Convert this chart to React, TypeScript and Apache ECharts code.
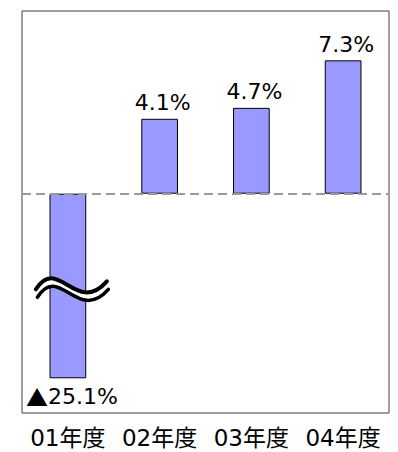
import React, { useEffect, useRef } from "react";
import * as echarts from "echarts";

const categories = ["01年度", "02年度", "03年度", "04年度"];
const actualValues = [-25.1, 4.1, 4.7, 7.3];
// first bar is drawn truncated (axis break shown with a wave mark)
const displayValues = [-10.1, 4.1, 4.7, 7.3];
const yMin = -12;
const yMax = 10;

const FONT = "'DejaVu Sans', 'Noto Sans CJK JP', sans-serif";

export default function App() {
  const ref = useRef<HTMLDivElement>(null);
  useEffect(() => {
    if (!ref.current) return;
    const chart = echarts.init(ref.current, undefined, { renderer: "svg" });
    const data = displayValues.map((v, i) => ({
      value: v,
      label: {
        position: actualValues[i] < 0 ? "bottom" : "top",
        distance: actualValues[i] < 0 ? 7 : 5,
        offset: actualValues[i] < 0 ? [4, 0] : [3, 0],
      },
    }));
    chart.setOption({
      animation: false,
      grid: {
        left: 22,
        top: 11,
        right: 9,
        bottom: 39,
        show: true,
        borderColor: "#404040",
        borderWidth: 1,
        backgroundColor: "#fff",
      },
      xAxis: {
        type: "category",
        data: categories,
        axisLine: { show: false },
        axisTick: { show: false },
        axisLabel: {
          color: "#000",
          fontSize: 23,
          fontFamily: FONT,
          margin: 13,
          interval: 0,
        },
      },
      yAxis: {
        type: "value",
        min: yMin,
        max: yMax,
        show: false,
        splitLine: { show: false },
      },
      series: [
        {
          type: "bar",
          data,
          barWidth: "40%",
          itemStyle: { color: "#9999ff", borderColor: "#000", borderWidth: 1 },
          label: {
            show: true,
            color: "#000",
            fontSize: 22,
            fontFamily: FONT,
            formatter: (p: any) => {
              const v = actualValues[p.dataIndex];
              return v < 0 ? "{tri|▲}" + Math.abs(v).toFixed(1) + "%" : v.toFixed(1) + "%";
            },
            rich: {
              tri: {
                fontSize: 22,
                fontFamily: "'Noto Sans CJK JP', sans-serif",
                color: "#000",
              },
            },
          },
          markLine: {
            silent: true,
            symbol: "none",
            label: { show: false },
            lineStyle: { color: "#999", type: [9, 5], width: 2 },
            data: [{ yAxis: 0 }],
            z: 10,
          },
        },
      ],
    });
    const anchor = chart.convertToPixel({ xAxisIndex: 0, yAxisIndex: 0 }, [0, displayValues[0] / 2]) as number[];
    const ax = anchor[0];
    const ay = anchor[1];
    const wave = (dx: number, dy: number, stroke: string, lw: number) => ({
      type: "bezierCurve",
      z: 100,
      silent: true,
      shape: {
        x1: ax - 32 + dx,
        y1: ay + 3.3 + dy,
        cpx1: ax - 10 + dx,
        cpy1: ay - 31.7 + dy,
        cpx2: ax + 8 + dx,
        cpy2: ay + 30.3 + dy,
        x2: ax + 39 + dx,
        y2: ay - 4.7 + dy,
      },
      style: { stroke, lineWidth: lw, fill: null, lineCap: "round" },
    });
    chart.setOption({
      graphic: [wave(0.75, 4, "#fff", 7), wave(0, 0, "#000", 4), wave(1.5, 8, "#000", 3.5)],
    });
    return () => chart.dispose();
  }, []);
  return <div ref={ref} style={{ position: "absolute", left: 0, top: 0, width: 398, height: 452 }} />;
}
